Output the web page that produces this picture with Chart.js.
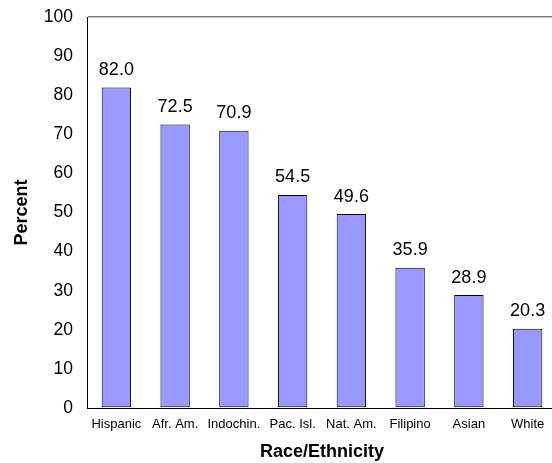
<!DOCTYPE html>
<html>
<head>
<meta charset="utf-8">
<script src="https://cdn.jsdelivr.net/npm/chart.js@4.4.0/dist/chart.umd.min.js"></script>
<style>
  html, body { margin: 0; padding: 0; background: #fff; overflow: hidden; }
  #wrap { width: 557px; height: 463px; }
</style>
</head>
<body>
<div id="wrap"><canvas id="chart"></canvas></div>
<script>
const groups = ['Hispanic', 'Afr. Am.', 'Indochin.', 'Pac. Isl.', 'Nat. Am.', 'Filipino', 'Asian', 'White'];
const percents = [82.0, 72.5, 70.9, 54.5, 49.6, 35.9, 28.9, 20.3];
const yTicks = [0, 10, 20, 30, 40, 50, 60, 70, 80, 90, 100];

const FONT = "'Liberation Sans', Arial, sans-serif";

// values written above each bar
const barLabels = {
  id: 'barLabels',
  afterDatasetsDraw(chart) {
    const ctx = chart.ctx;
    const meta = chart.getDatasetMeta(0);
    ctx.save();
    ctx.font = '18px ' + FONT;
    ctx.fillStyle = '#000';
    ctx.textAlign = 'center';
    ctx.textBaseline = 'alphabetic';
    meta.data.forEach((bar, i) => {
      ctx.fillText(percents[i].toFixed(1), bar.x, bar.y - 12.5);
    });
    ctx.restore();
  }
};

new Chart(document.getElementById('chart').getContext('2d'), {
  type: 'bar',
  data: {
    labels: groups,
    datasets: [{
      data: percents,
      backgroundColor: '#9999FF',
      borderColor: '#000',
      borderWidth: 1,
      borderSkipped: false,
      categoryPercentage: 1.0,
      barPercentage: 0.5
    }]
  },
  options: {
    responsive: true,
    maintainAspectRatio: false,
    animation: false,
    layout: { padding: { left: 0, top: 17, right: 0, bottom: 0 } },
    plugins: {
      legend: { display: false },
      tooltip: { enabled: false }
    },
    scales: {
      x: {
        grid: { display: false, drawTicks: false },
        border: { color: '#000', width: 1 },
        ticks: { color: '#000', font: { family: FONT, size: 13 }, padding: 9, maxRotation: 0, autoSkip: false },
        title: {
          display: true,
          text: 'Race/Ethnicity',
          color: '#000',
          font: { family: FONT, size: 18, weight: 'bold' },
          padding: { top: 0, bottom: 0 }
        },
        afterFit(scale) {
          scale.height = 55;
          scale.paddingLeft = 0;
          scale.paddingRight = 0;
        }
      },
      y: {
        min: 0,
        max: 100,
        afterBuildTicks(scale) { scale.ticks = yTicks.map(v => ({ value: v })); },
        grid: {
          drawTicks: false,
          color: c => (c.tick && c.tick.value === 100 ? '#808080' : 'rgba(0,0,0,0)'),
          lineWidth: 1.5
        },
        border: { color: '#000', width: 1 },
        ticks: { color: '#000', font: { family: FONT, size: 17.5 }, padding: 14 },
        title: {
          display: true,
          text: 'Percent',
          color: '#000',
          font: { family: FONT, size: 18, weight: 'bold' },
          padding: { top: 11, bottom: 0 }
        },
        afterFit(scale) {
          scale.width = 87;
          scale.paddingTop = 0;
          scale.paddingBottom = 0;
        }
      }
    }
  },
  plugins: [barLabels]
});
</script>
</body>
</html>
